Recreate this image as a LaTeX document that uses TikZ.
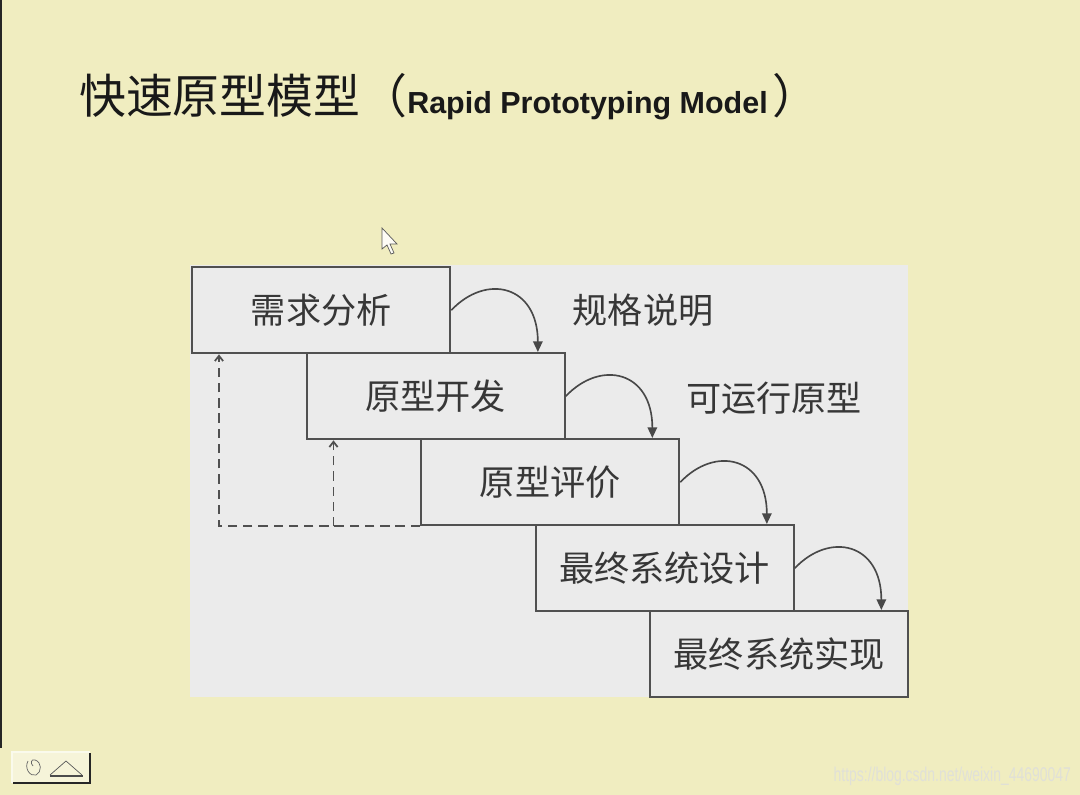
\documentclass[tikz,border=0pt]{standalone}
\usepackage{fontspec}
\setmainfont{Liberation Sans}
\newfontfamily\cjk{Noto Sans CJK SC}
\usetikzlibrary{calc,math,arrows.meta}
\definecolor{paper}{RGB}{240,237,192}
\definecolor{panel}{RGB}{235,235,235}
\definecolor{boxline}{RGB}{80,80,80}
\definecolor{ink}{RGB}{55,55,55}
\definecolor{wmark}{RGB}{224,224,216}

\begin{document}
\begin{tikzpicture}[x=0.03cm,y=-0.03cm,
  stage/.style={draw=boxline,line width=2pt,fill=panel,text=ink,
    minimum width=7.74cm,minimum height=2.58cm,inner sep=0pt,anchor=north west,
    font=\cjk\fontsize{30}{30}\selectfont},
  flow/.style={draw=boxline!90!black,line width=1.4pt,-{Triangle[length=9pt,width=8pt]}},
  back/.style={draw=boxline,line width=1.5pt,dash pattern=on 8pt off 5pt,
    -{Straight Barb[length=4.5pt,width=7pt]}},
  note/.style={text=ink,font=\cjk\fontsize{30}{30}\selectfont}]
  \useasboundingbox (0,0) rectangle (1080,795);
  \fill[paper] (0,0) rectangle (1080,795);
  \draw[black!85,line width=1.4pt] (0.8,0) -- (0.8,748);
  \fill[panel] (190,265) rectangle (908,697);

  \node[anchor=west,text=black!90,inner sep=0pt] (title) at (79,97)
    {{\cjk\fontsize{40}{40}\selectfont 快速原型模型（}{\fontsize{26}{26}\selectfont\bfseries Rapid Prototyping Model}\hspace{4pt}{\cjk\fontsize{40}{40}\selectfont ）}};

  \foreach \name [count=\i] in {需求分析,原型开发,原型评价,最终系统设计,最终系统实现} {
    \tikzmath{
      real \x;
      real \y;
      \x = 191 + 114.5*(\i - 1);
      \y = 266 + 86*(\i - 1);
    }
    \node[stage] (S\i) at (\x,\y) {\name};
  }

  \foreach \i in {1,...,4} {
    \tikzmath{
      int \j;
      \j = \i + 1;
    }
    \draw[flow] (S\i.east) .. controls +(35,-37) and +(0,-67) .. ($(S\j.north east)+(-28,0)$);
  }

  \node[note] (spec) at (643,310) {规格说明};
  \node[note] (proto) at (774,398) {可运行原型};

  \coordinate (R1) at ($(S1.south west)+(28,0)$);
  \coordinate (R2) at ($(S2.south west)+(28,0)$);
  \draw[back] (S3.south west) -| (R1);
  \draw[back] (S3.south west -| R2) -- (R2);

  \filldraw[fill=white!85!paper,draw=black!65,line width=0.6pt]
    (382,228) -- (382,249) -- (387,245) -- (391,254) -- (394,253) -- (390,244) -- (397,244) -- cycle;

  \fill[white!40!paper] (12,752) rectangle (90,783);
  \draw[white!70!paper,line width=1pt] (12,783) -- (12,752) -- (90,752);
  \draw[black!85,line width=2pt] (13,783) -- (90,783) -- (90,753);
  \draw[black!60,line width=0.6pt] (28,761) .. controls (24,768) and (30,777) .. (36,775)
    .. controls (42,772) and (42,762) .. (35,760) .. controls (31,759) and (30,763) .. (33,766);
  \draw[black!65,line width=0.6pt] (50,775) -- (66,761) -- (82,775);
  \draw[black!70,line width=1.6pt] (50,776) -- (83,776);

  \node[anchor=east,text=wmark,inner sep=0pt,font=\fontsize{17}{17}\selectfont,
    xscale=0.7,transform shape] (url) at (1071,776) {https://blog.csdn.net/weixin\_44690047};
\end{tikzpicture}
\end{document}
